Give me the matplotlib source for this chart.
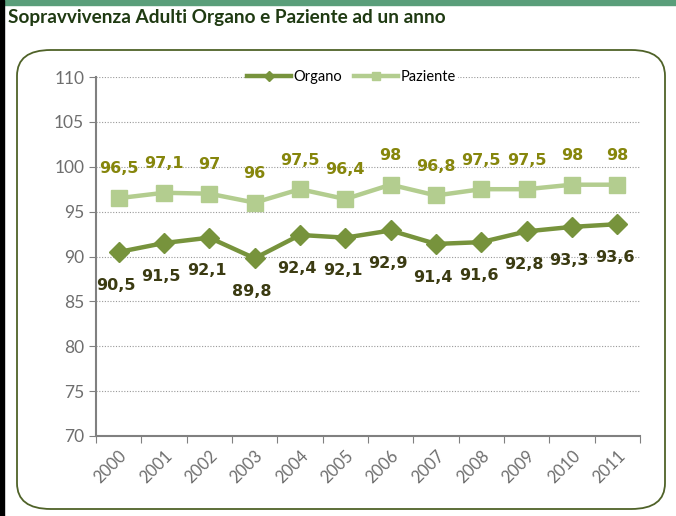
import matplotlib.pyplot as plt
from matplotlib.patches import FancyBboxPatch, Rectangle

years = ["2000", "2001", "2002", "2003", "2004", "2005",
         "2006", "2007", "2008", "2009", "2010", "2011"]
organo = [90.5, 91.5, 92.1, 89.8, 92.4, 92.1, 92.9, 91.4, 91.6, 92.8, 93.3, 93.6]
paziente = [96.5, 97.1, 97.0, 96.0, 97.5, 96.4, 98.0, 96.8, 97.5, 97.5, 98.0, 98.0]
organo_lbl = ["90,5", "91,5", "92,1", "89,8", "92,4", "92,1",
              "92,9", "91,4", "91,6", "92,8", "93,3", "93,6"]
paziente_lbl = ["96,5", "97,1", "97", "96", "97,5", "96,4",
                "98", "96,8", "97,5", "97,5", "98", "98"]

plt.rcParams["font.family"] = ["Lato", "DejaVu Sans"]

fig = plt.figure(figsize=(6.76, 5.16), dpi=100)
W, H = 676, 516

# striscia in alto e bordo sinistro
fig.patches.append(Rectangle((0, 1 - 5 / H), 1, 5 / H, transform=fig.transFigure,
                             color="#5a9e7a", zorder=0))
fig.patches.append(Rectangle((0, 0), 4 / W, 1, transform=fig.transFigure,
                             color="black", zorder=0))

fig.text(8 / W, 1 - 18 / H, "Sopravvivenza Adulti Organo e Paziente ad un anno",
         fontsize=13.7, fontweight="bold", color="#1f3a12", va="center", ha="left")

# cornice arrotondata
frame = FancyBboxPatch((17 / W, 7 / H), 648 / W, (H - 50 - 7) / H,
                       boxstyle="round,pad=0,rounding_size=0.05",
                       transform=fig.transFigure, fill=False,
                       edgecolor="#4f6228", linewidth=1.3, zorder=0)
fig.patches.append(frame)

ax = fig.add_axes([96 / W, 1 - 436 / H, (640 - 96) / W, (436 - 77) / H])
x = list(range(len(years)))

ax.plot(x, organo, color="#77933c", lw=3.2, marker="D", ms=10, label="Organo", zorder=3)
ax.plot(x, paziente, color="#b3cd8f", lw=3.2, marker="s", ms=12, label="Paziente", zorder=3)

for i in x:
    ax.annotate(organo_lbl[i], (i, organo[i]), xytext=(-2, -24), textcoords="offset points",
                ha="center", va="center", fontsize=11.5, fontweight="bold",
                color="#3b3b12", family="DejaVu Sans")
    ax.annotate(paziente_lbl[i], (i, paziente[i]), xytext=(0, 21), textcoords="offset points",
                ha="center", va="center", fontsize=11.5, fontweight="bold",
                color="#86860c", family="DejaVu Sans")

ax.set_xlim(-0.5, 11.5)
ax.set_ylim(70, 110)
ax.set_yticks(range(70, 111, 5))
ax.set_xticks([i - 0.5 for i in range(13)], minor=False)
ax.set_xticklabels([])
ax.set_xticks(x, minor=True)
ax.set_xticklabels(years, minor=True, rotation=45, ha="right", va="top",
                   rotation_mode="anchor", fontsize=12, color="#6e6e6e")
ax.tick_params(axis="x", which="minor", length=0, pad=8)
ax.tick_params(axis="x", which="major", length=5, color="#808080", direction="out")
ax.tick_params(axis="y", length=5, color="#808080", direction="out",
               labelsize=12.5, labelcolor="#6e6e6e")

ax.grid(axis="y", linestyle=(0, (1, 1.5)), color="#999999", lw=0.8)
ax.set_axisbelow(True)
for s in ["top", "right"]:
    ax.spines[s].set_visible(False)
for s in ["left", "bottom"]:
    ax.spines[s].set_color("#808080")
    ax.spines[s].set_linewidth(1.5)

leg = ax.legend(loc="center", bbox_to_anchor=(0.47, 1.0), ncol=2, frameon=True,
                fontsize=10.5, handlelength=3, columnspacing=0.8, handletextpad=0.2,
                borderpad=0.1, markerscale=0.5)
leg.get_frame().set_edgecolor("none")
leg.get_frame().set_facecolor("white")
leg.get_frame().set_alpha(1)

fig.savefig("out.png", dpi=100)
